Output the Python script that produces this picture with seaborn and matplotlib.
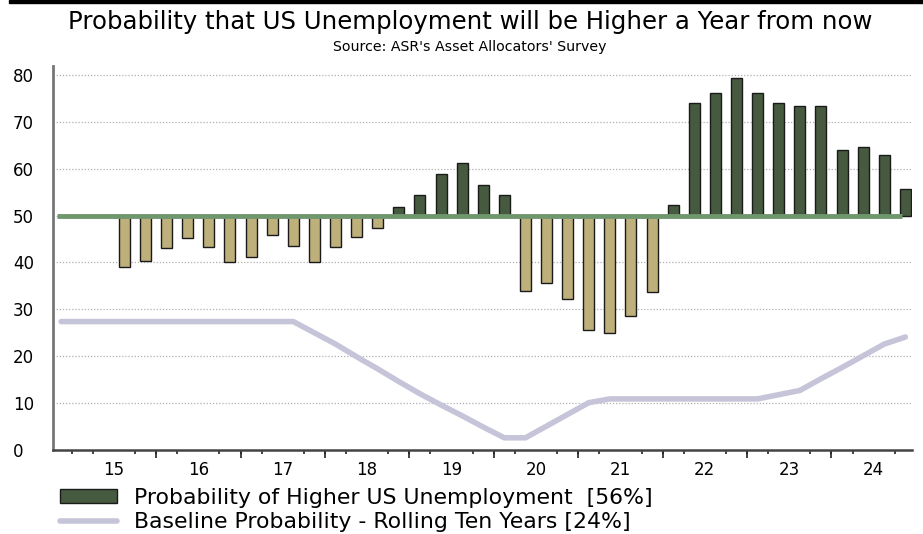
import numpy as np
import pandas as pd
import matplotlib
matplotlib.use("Agg")
import matplotlib.pyplot as plt
from matplotlib.patches import Patch, Rectangle
from matplotlib.lines import Line2D
import seaborn as sns

# Quarterly survey readings, 2014 Q4 .. 2024 Q4 (index 0 = 2014 Q4)
quarter_idx = list(range(41))
survey_prob = [np.nan, np.nan, np.nan,
               39.1, 40.3, 43.1, 45.2, 43.4, 40.1, 41.1, 45.8, 43.6,
               40.0, 43.2, 45.5, 47.3, 51.8, 54.5, 58.8, 61.2, 56.6, 54.5,
               34.0, 35.6, 32.2, 25.6, 25.0, 28.6, 33.6, 52.3, 74.0, 76.2,
               79.4, 76.1, 74.1, 73.3, 73.3, 64.0, 64.7, 63.0, 55.6]
baseline_prob = [27.4, 27.4, 27.4, 27.4, 27.4, 27.4, 27.4, 27.4, 27.4, 27.4,
                 27.4, 27.4, 25.0, 22.6, 19.9, 17.3, 14.6, 12.0, 9.6, 7.3,
                 4.9, 2.6, 2.6, 5.1, 7.6, 10.1, 10.9, 10.9, 10.9, 10.9,
                 10.9, 10.9, 10.9, 10.9, 11.8, 12.7, 15.2, 17.6, 20.1, 22.6,
                 24.1]
year_labels = ["15", "16", "17", "18", "19", "20", "21", "22", "23", "24"]
NEUTRAL = 50

title = "Probability that US Unemployment will be Higher a Year from now"
subtitle = "Source: ASR's Asset Allocators' Survey"

BAR_UP = "#465a40"
BAR_DOWN = "#bdb07b"
NEUTRAL_LINE = "#6f966c"
BASE_LINE = "#c6c4d8"

sns.set_theme(style="white")
plt.rcParams["font.family"] = ["DejaVu Sans"]
plt.rcParams["text.color"] = "black"
plt.rcParams["xtick.color"] = "black"
plt.rcParams["ytick.color"] = "black"

df = pd.DataFrame({"q": quarter_idx, "prob": survey_prob, "base": baseline_prob})
bars = df.dropna(subset=["prob"]).copy()
bars["excess"] = bars["prob"] - NEUTRAL
bars["side"] = np.where(bars["excess"] >= 0, "up", "down")

W, H = 923, 534
fig = plt.figure(figsize=(W / 100, H / 100), dpi=100)
ax = fig.add_axes([53.3 / W, 1 - 450 / H, (911.7 - 53.3) / W, (450 - 65.6) / H])

# Bars hang from the 50% line
sns.barplot(data=bars, x="q", y="excess", hue="side", native_scale=True,
            palette={"up": BAR_UP, "down": BAR_DOWN}, saturation=1,
            width=0.52, dodge=False, edgecolor="#1a1a1a", linewidth=1.0,
            legend=False, ax=ax, zorder=3)
for p in ax.patches:
    p.set_y(p.get_y() + NEUTRAL)

sns.lineplot(data=df, x="q", y="base", color=BASE_LINE, linewidth=4,
             ax=ax, zorder=2)

ax.hlines(NEUTRAL, quarter_idx[0] - 0.2, quarter_idx[-1] - 0.15,
          color=NEUTRAL_LINE, linewidth=3.5, zorder=4)

ax.set_xlim(-0.37, 40.3)
ax.set_ylim(0, 82)
ax.set_xlabel("")
ax.set_ylabel("")

# y axis: labels left-aligned at the figure margin
ax.set_yticks(range(0, 81, 10))
ax.set_yticklabels([str(v) for v in range(0, 81, 10)], fontsize=12, ha="left")
ax.tick_params(axis="y", length=0, pad=29)
for v in range(10, 81, 10):
    ax.axhline(v, color="#b0b0b0", linewidth=0.9, linestyle=(0, (1, 1.5)), zorder=0)

# x axis: year labels centred on each year, ticks on quarter boundaries
label_pos = [2.5 + 4 * i for i in range(len(year_labels))]
ax.set_xticks(label_pos)
ax.set_xticklabels(year_labels, fontsize=12)
ax.tick_params(axis="x", which="major", bottom=True, length=0, pad=8)
ax.set_xticks([k + 0.5 for k in quarter_idx[:-1]], minor=True)
ax.tick_params(axis="x", which="minor", bottom=True, length=3, width=1.2,
               color="#222222", direction="out")
sec = ax.secondary_xaxis("bottom")
sec.set_xticks([4.5 + 4 * i for i in range(9)])
sec.set_xticklabels([])
sec.tick_params(bottom=True, length=6, width=1.2, color="#222222")
sec.spines["bottom"].set_visible(False)

for s in ["top", "right"]:
    ax.spines[s].set_visible(False)
ax.spines["left"].set_color("#777777")
ax.spines["left"].set_linewidth(2)
ax.spines["bottom"].set_color("#444444")
ax.spines["bottom"].set_linewidth(1.8)

# Titles
fig.text(470 / W, 1 - 22 / H, title, ha="center", va="center", fontsize=17.6)
fig.text(470 / W, 1 - 47 / H, subtitle, ha="center", va="center", fontsize=10.2)
fig.patches.append(Rectangle((9 / W, 1 - 3 / H), 1, 3 / H, transform=fig.transFigure,
                             color="black", zorder=5))

# Legend
handles = [Patch(facecolor=BAR_UP, edgecolor="#1a1a1a", linewidth=1),
           Line2D([0], [0], color=BASE_LINE, linewidth=4)]
labels = [f"Probability of Higher US Unemployment  [{survey_prob[-1]:.0f}%]",
          f"Baseline Probability - Rolling Ten Years [{baseline_prob[-1]:.0f}%]"]
fig.legend(handles, labels, loc="upper left", bbox_to_anchor=(60 / W, 1 - 488 / H),
           frameon=False, fontsize=15.8, handlelength=2.6, handleheight=0.6,
           handletextpad=0.75, borderpad=0, borderaxespad=0, labelspacing=0.2)

fig.savefig("out.png", dpi=100)
